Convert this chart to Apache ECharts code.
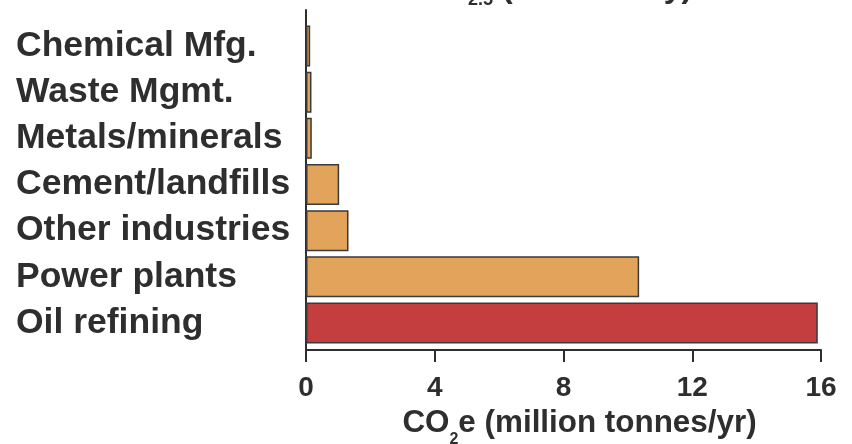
<!DOCTYPE html>
<html>
<head>
<meta charset="utf-8">
<script src="https://cdn.jsdelivr.net/npm/echarts@6/dist/echarts.min.js"></script>
<style>
  html, body { margin: 0; padding: 0; background: #fff; }
  #main { width: 852px; height: 444px; }
</style>
</head>
<body>
<div id="main"></div>
<script>
var myChart = echarts.init(document.getElementById('main'));

// sources, top to bottom
var sectors = ['Chemical Mfg.', 'Waste Mgmt.', 'Metals/minerals', 'Cement/landfills',
               'Other industries', 'Power plants', 'Oil refining'];
// CO2e, million tonnes per year
var co2e = [0.13, 0.17, 0.18, 1.03, 1.32, 10.35, 15.9];
var xTicks = [0, 4, 8, 12, 16];
var highlighted = 'Oil refining';

var ink = '#2e2e2e';
var font = 'Liberation Sans';

option = {
    animation: false,
    textStyle: { fontFamily: font },
    title: {
        text: '{m|PM}{s|2.5}{m| (tonnes/day)}',
        left: 415,
        top: -33,
        textStyle: {
            rich: {
                m: { fontSize: 32, fontWeight: 'bold', color: ink, fontFamily: font, lineHeight: 32, verticalAlign: 'top' },
                s: { fontSize: 18, fontWeight: 'bold', color: ink, fontFamily: font, lineHeight: 18, padding: [19, 0, 0, 0], verticalAlign: 'top' }
            }
        }
    },
    grid: [
        // axis frame
        { left: 306, right: 31, top: 10, bottom: 94, outerBoundsMode: 'none' },
        // bars
        { left: 306, right: 31, top: 23, bottom: 98, outerBoundsMode: 'none' }
    ],
    xAxis: [{
        gridIndex: 0,
        type: 'value',
        min: xTicks[0],
        max: xTicks[xTicks.length - 1],
        interval: xTicks[1] - xTicks[0],
        axisLine: { show: true, lineStyle: { color: ink, width: 2 } },
        axisTick: { show: true, length: 12, lineStyle: { color: ink, width: 2 } },
        splitLine: { show: false },
        axisLabel: { margin: 24, fontSize: 28, fontWeight: 'bold', color: ink, fontFamily: font },
        name: '{a|CO}{s|2}{a|e (million tonnes/yr)}',
        nameLocation: 'middle',
        nameGap: 58,
        nameTextStyle: {
            padding: [0, 0, 0, 32],
            rich: {
                a: { fontSize: 31.4, fontWeight: 'bold', color: ink, fontFamily: font, lineHeight: 32, verticalAlign: 'top' },
                s: { fontSize: 16, fontWeight: 'bold', color: ink, fontFamily: font, lineHeight: 16, padding: [24, 0, 0, 0], verticalAlign: 'top' }
            }
        }
    }, {
        gridIndex: 1,
        type: 'value',
        min: xTicks[0],
        max: xTicks[xTicks.length - 1],
        show: false
    }],
    yAxis: [{
        gridIndex: 0,
        type: 'value',
        axisLine: { show: true, lineStyle: { color: ink, width: 2 } },
        axisTick: { show: false },
        axisLabel: { show: false },
        splitLine: { show: false }
    }, {
        gridIndex: 1,
        type: 'category',
        inverse: true,
        data: sectors,
        axisLine: { show: false },
        axisTick: { show: false },
        axisLabel: {
            interval: 0,
            margin: 290,
            align: 'left',
            fontSize: 35.5,
            fontWeight: 'bold',
            color: ink,
            fontFamily: font
        }
    }],
    series: [{
        type: 'bar',
        xAxisIndex: 1,
        yAxisIndex: 1,
        data: co2e,
        barWidth: 41,
        itemStyle: {
            color: function (p) {
                return p.name === highlighted ? '#c43e40' : '#e2a35b';
            },
            borderColor: '#3a3a3a',
            borderWidth: 1.5
        }
    }]
};
myChart.setOption(option);
</script>
</body>
</html>
